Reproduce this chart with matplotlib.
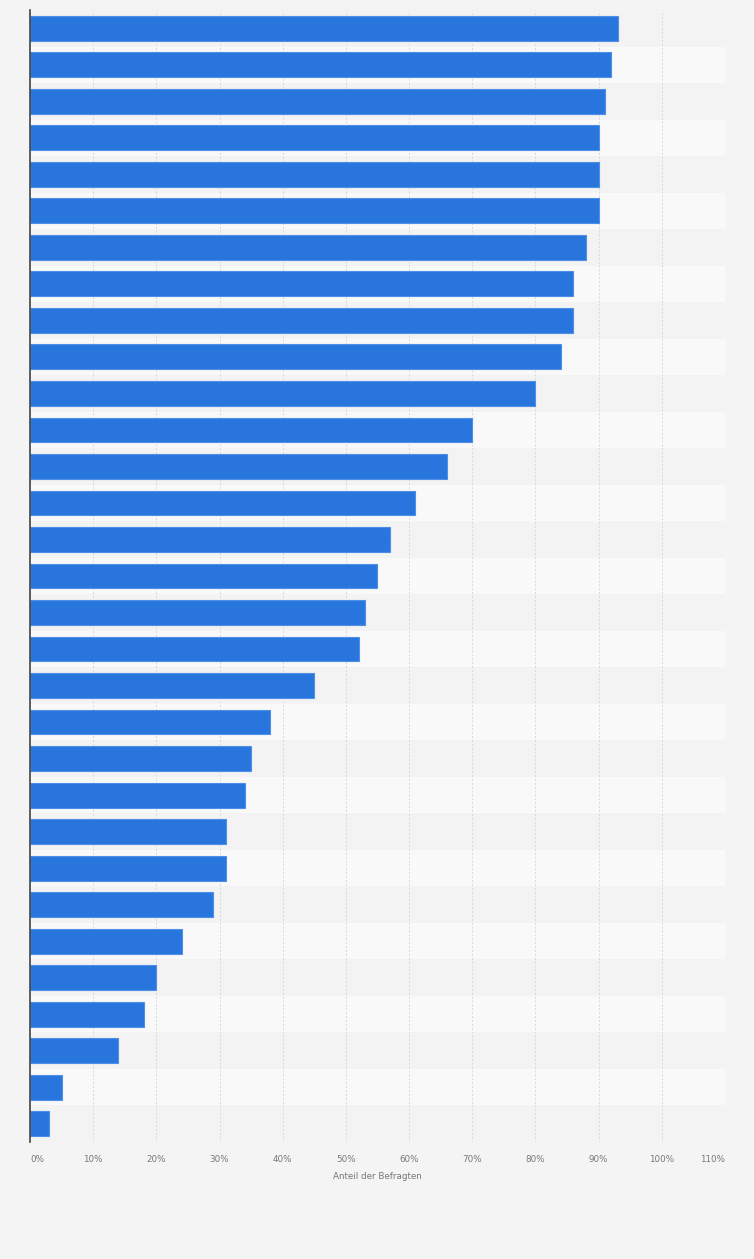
import numpy as np
import matplotlib.pyplot as plt

# Anteil der Befragten in %, von oben nach unten
values = [93, 92, 91, 90, 90, 90, 88, 86, 86, 84, 80, 70, 66, 61, 57, 55,
          53, 52, 45, 38, 35, 34, 31, 31, 29, 24, 20, 18, 14, 5, 3]
tick_values = [0, 10, 20, 30, 40, 50, 60, 70, 80, 90, 100, 110]
tick_labels = [f"{t}%" for t in tick_values]
x_label = "Anteil der Befragten"

bar_color = '#2876dd'
bg_color = '#f4f4f4'

fig = plt.figure(figsize=(7.54, 12.59), dpi=100, facecolor=bg_color)
ax = fig.add_axes([30 / 754, 1 - 1142 / 1259, 695 / 754, 1132 / 1259])
ax.set_facecolor('#f3f3f3')

n = len(values)
y = np.arange(n)

# abwechselnde Zeilenstreifen
for i in range(n):
    if i % 2 == 1:
        ax.axhspan(i - 0.5, i + 0.5, color='#f9f9f9', zorder=0, lw=0)

ax.barh(y, values, height=0.68, color=bar_color, edgecolor='#4d8fe6',
        linewidth=0.8, zorder=3)

ax.set_xlim(0, 110)
ax.set_ylim(n - 0.5, -0.5)
ax.set_xticks(tick_values)
ax.set_xticklabels(tick_labels, fontsize=6.3, color='#777777')
# erstes und letztes Label nach innen ruecken
xt = ax.get_xticklabels()
xt[0].set_horizontalalignment('left')
xt[-1].set_horizontalalignment('right')
ax.set_yticks([])
ax.tick_params(axis='x', length=0, pad=9)
ax.grid(axis='x', color='#d9d9d9', linestyle=(0, (2, 2)), linewidth=0.7, zorder=1)
ax.set_axisbelow(True)

for s in ['top', 'right', 'bottom']:
    ax.spines[s].set_visible(False)
ax.spines['left'].set_color('#444444')
ax.spines['left'].set_linewidth(1.2)
ax.spines['left'].set_zorder(4)

ax.set_xlabel(x_label, fontsize=6.3, color='#777777', labelpad=6)

fig.savefig('out.png', dpi=100, facecolor=bg_color)
